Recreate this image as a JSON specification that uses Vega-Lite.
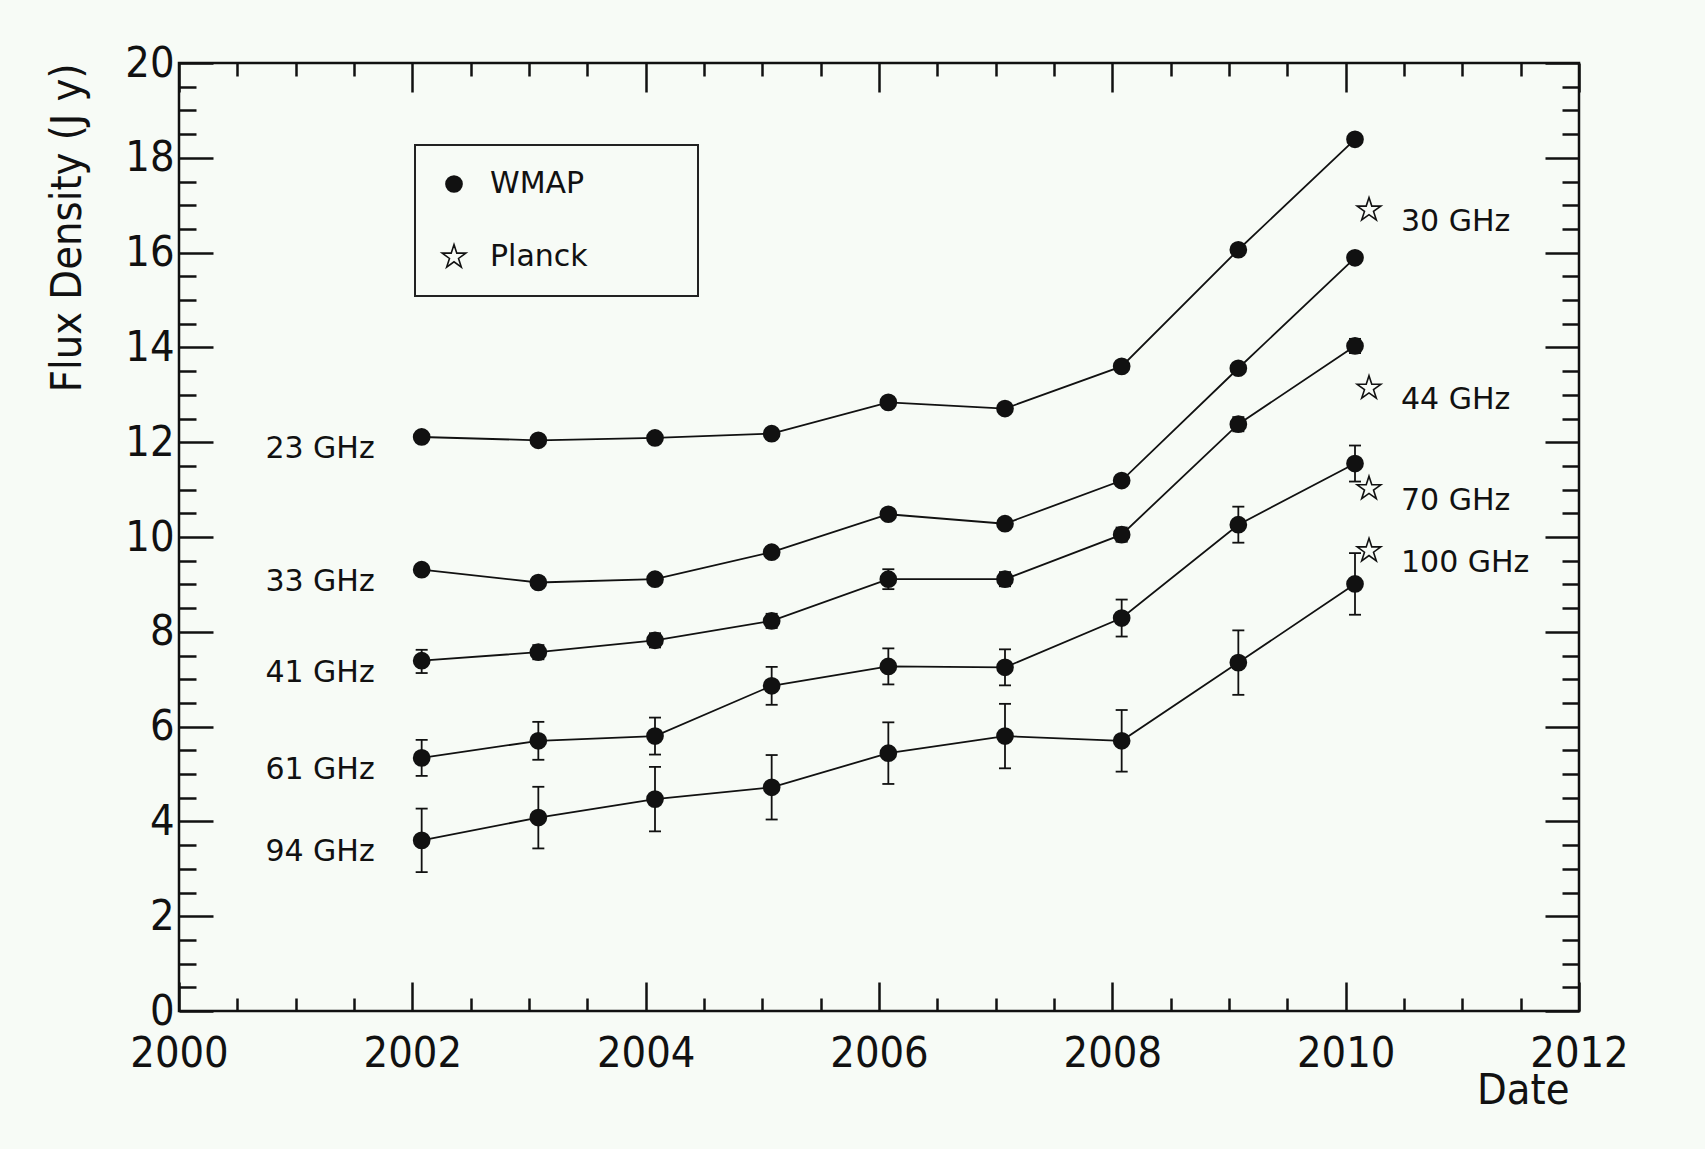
{
  "$schema": "https://vega.github.io/schema/vega-lite/v6.json",
  "width": 1400,
  "height": 948,
  "autosize": {"type": "none"},
  "padding": {"left": 179, "top": 63, "right": 126, "bottom": 138},
  "background": "#f7fbf6",
  "config": {
    "view": {"stroke": "#111111", "strokeWidth": 2.5},
    "axis": {
      "domain": false,
      "grid": false,
      "tickColor": "#111111",
      "tickWidth": 2.5,
      "labelFont": "DejaVu Sans Condensed, Liberation Sans Narrow, DejaVu Sans, sans-serif",
      "labelFontSize": 43,
      "labelColor": "#111111",
      "labelFlush": false,
      "labelOverlap": false,
      "titleFont": "DejaVu Sans Condensed, Liberation Sans Narrow, DejaVu Sans, sans-serif",
      "titleFontSize": 43,
      "titleFontWeight": "normal",
      "titleColor": "#111111"
    },
    "legend": {
      "strokeColor": "#222222",
      "strokeWidth": 2,
      "padding": 24,
      "labelFont": "DejaVu Sans",
      "labelFontSize": 30,
      "labelColor": "#111111",
      "labelLimit": 600,
      "labelOffset": 21,
      "rowPadding": 42,
      "symbolStrokeColor": "#111111",
      "symbolStrokeWidth": 1.6
    }
  },
  "data": {
    "values": [
      {"inst": "WMAP", "band": "23 GHz", "t": 2002.08, "flux": 12.11, "lo": 12.01, "hi": 12.21},
      {"inst": "WMAP", "band": "23 GHz", "t": 2003.08, "flux": 12.04, "lo": 11.94, "hi": 12.14},
      {"inst": "WMAP", "band": "23 GHz", "t": 2004.08, "flux": 12.09, "lo": 11.99, "hi": 12.19},
      {"inst": "WMAP", "band": "23 GHz", "t": 2005.08, "flux": 12.18, "lo": 12.08, "hi": 12.28},
      {"inst": "WMAP", "band": "23 GHz", "t": 2006.08, "flux": 12.84, "lo": 12.74, "hi": 12.94},
      {"inst": "WMAP", "band": "23 GHz", "t": 2007.08, "flux": 12.71, "lo": 12.61, "hi": 12.81},
      {"inst": "WMAP", "band": "23 GHz", "t": 2008.08, "flux": 13.60, "lo": 13.50, "hi": 13.70},
      {"inst": "WMAP", "band": "23 GHz", "t": 2009.08, "flux": 16.06, "lo": 15.96, "hi": 16.16},
      {"inst": "WMAP", "band": "23 GHz", "t": 2010.08, "flux": 18.39, "lo": 18.29, "hi": 18.49},
      {"inst": "WMAP", "band": "33 GHz", "t": 2002.08, "flux": 9.31, "lo": 9.21, "hi": 9.41},
      {"inst": "WMAP", "band": "33 GHz", "t": 2003.08, "flux": 9.04, "lo": 8.94, "hi": 9.14},
      {"inst": "WMAP", "band": "33 GHz", "t": 2004.08, "flux": 9.11, "lo": 9.01, "hi": 9.21},
      {"inst": "WMAP", "band": "33 GHz", "t": 2005.08, "flux": 9.68, "lo": 9.58, "hi": 9.78},
      {"inst": "WMAP", "band": "33 GHz", "t": 2006.08, "flux": 10.48, "lo": 10.38, "hi": 10.58},
      {"inst": "WMAP", "band": "33 GHz", "t": 2007.08, "flux": 10.28, "lo": 10.18, "hi": 10.38},
      {"inst": "WMAP", "band": "33 GHz", "t": 2008.08, "flux": 11.19, "lo": 11.09, "hi": 11.29},
      {"inst": "WMAP", "band": "33 GHz", "t": 2009.08, "flux": 13.56, "lo": 13.46, "hi": 13.66},
      {"inst": "WMAP", "band": "33 GHz", "t": 2010.08, "flux": 15.89, "lo": 15.79, "hi": 15.99},
      {"inst": "WMAP", "band": "41 GHz", "t": 2002.08, "flux": 7.39, "lo": 7.13, "hi": 7.62},
      {"inst": "WMAP", "band": "41 GHz", "t": 2003.08, "flux": 7.57, "lo": 7.42, "hi": 7.72},
      {"inst": "WMAP", "band": "41 GHz", "t": 2004.08, "flux": 7.82, "lo": 7.67, "hi": 7.97},
      {"inst": "WMAP", "band": "41 GHz", "t": 2005.08, "flux": 8.23, "lo": 8.08, "hi": 8.38},
      {"inst": "WMAP", "band": "41 GHz", "t": 2006.08, "flux": 9.11, "lo": 8.90, "hi": 9.32},
      {"inst": "WMAP", "band": "41 GHz", "t": 2007.08, "flux": 9.11, "lo": 8.96, "hi": 9.26},
      {"inst": "WMAP", "band": "41 GHz", "t": 2008.08, "flux": 10.05, "lo": 9.90, "hi": 10.20},
      {"inst": "WMAP", "band": "41 GHz", "t": 2009.08, "flux": 12.38, "lo": 12.23, "hi": 12.53},
      {"inst": "WMAP", "band": "41 GHz", "t": 2010.08, "flux": 14.03, "lo": 13.88, "hi": 14.18},
      {"inst": "WMAP", "band": "61 GHz", "t": 2002.08, "flux": 5.34, "lo": 4.96, "hi": 5.72},
      {"inst": "WMAP", "band": "61 GHz", "t": 2003.08, "flux": 5.70, "lo": 5.30, "hi": 6.10},
      {"inst": "WMAP", "band": "61 GHz", "t": 2004.08, "flux": 5.80, "lo": 5.41, "hi": 6.19},
      {"inst": "WMAP", "band": "61 GHz", "t": 2005.08, "flux": 6.86, "lo": 6.46, "hi": 7.26},
      {"inst": "WMAP", "band": "61 GHz", "t": 2006.08, "flux": 7.27, "lo": 6.89, "hi": 7.65},
      {"inst": "WMAP", "band": "61 GHz", "t": 2007.08, "flux": 7.25, "lo": 6.87, "hi": 7.63},
      {"inst": "WMAP", "band": "61 GHz", "t": 2008.08, "flux": 8.29, "lo": 7.90, "hi": 8.68},
      {"inst": "WMAP", "band": "61 GHz", "t": 2009.08, "flux": 10.26, "lo": 9.88, "hi": 10.64},
      {"inst": "WMAP", "band": "61 GHz", "t": 2010.08, "flux": 11.55, "lo": 11.17, "hi": 11.93},
      {"inst": "WMAP", "band": "94 GHz", "t": 2002.08, "flux": 3.60, "lo": 2.93, "hi": 4.27},
      {"inst": "WMAP", "band": "94 GHz", "t": 2003.08, "flux": 4.08, "lo": 3.43, "hi": 4.73},
      {"inst": "WMAP", "band": "94 GHz", "t": 2004.08, "flux": 4.47, "lo": 3.79, "hi": 5.15},
      {"inst": "WMAP", "band": "94 GHz", "t": 2005.08, "flux": 4.72, "lo": 4.04, "hi": 5.40},
      {"inst": "WMAP", "band": "94 GHz", "t": 2006.08, "flux": 5.44, "lo": 4.79, "hi": 6.09},
      {"inst": "WMAP", "band": "94 GHz", "t": 2007.08, "flux": 5.80, "lo": 5.12, "hi": 6.48},
      {"inst": "WMAP", "band": "94 GHz", "t": 2008.08, "flux": 5.70, "lo": 5.05, "hi": 6.35},
      {"inst": "WMAP", "band": "94 GHz", "t": 2009.08, "flux": 7.35, "lo": 6.67, "hi": 8.03},
      {"inst": "WMAP", "band": "94 GHz", "t": 2010.08, "flux": 9.01, "lo": 8.36, "hi": 9.66},
      {"inst": "Planck", "band": "30 GHz", "t": 2010.2, "flux": 16.90},
      {"inst": "Planck", "band": "44 GHz", "t": 2010.2, "flux": 13.14},
      {"inst": "Planck", "band": "70 GHz", "t": 2010.2, "flux": 11.02},
      {"inst": "Planck", "band": "100 GHz", "t": 2010.2, "flux": 9.71}
    ]
  },
  "resolve": {"axis": {"x": "independent", "y": "independent"}},
  "layer": [
    {
      "transform": [{"filter": "datum.inst === 'WMAP'"}],
      "mark": {"type": "rule", "color": "#111111", "strokeWidth": 1.8},
      "encoding": {
        "x": {
          "field": "t", "type": "quantitative",
          "scale": {"domain": [2000, 2012], "nice": false, "zero": false},
          "axis": {
            "orient": "bottom",
            "values": [2000, 2002, 2004, 2006, 2008, 2010, 2012],
            "format": "d",
            "tickSize": -29,
            "labelBaseline": "alphabetic",
            "labelPadding": 84,
            "title": "Date",
            "titleAlign": "right",
            "titleBaseline": "alphabetic",
            "titleX": 1390,
            "titleY": 92
          }
        },
        "y": {
          "field": "lo", "type": "quantitative",
          "scale": {"domain": [0, 20], "nice": false, "zero": true},
          "axis": {
            "orient": "left",
            "values": [0, 2, 4, 6, 8, 10, 12, 14, 16, 18, 20],
            "tickSize": -34,
            "labelPadding": 39,
            "title": "Flux Density (J y)",
            "titleAngle": -90,
            "titleAlign": "right",
            "titleBaseline": "middle",
            "titleX": -112,
            "titleY": 0
          }
        },
        "y2": {"field": "hi"}
      }
    },
    {
      "transform": [
        {"filter": "datum.inst === 'WMAP'"},
        {"fold": ["lo", "hi"], "as": ["end", "bound"]}
      ],
      "mark": {"type": "tick", "orient": "horizontal", "color": "#111111", "size": 12, "thickness": 1.8, "opacity": 1},
      "encoding": {
        "x": {
          "field": "t", "type": "quantitative",
          "scale": {"domain": [2000, 2012], "nice": false, "zero": false},
          "axis": {
            "orient": "bottom",
            "values": [2000.5, 2001, 2001.5, 2002.5, 2003, 2003.5, 2004.5, 2005, 2005.5, 2006.5, 2007, 2007.5, 2008.5, 2009, 2009.5, 2010.5, 2011, 2011.5],
            "tickSize": -13,
            "labels": false,
            "title": null
          }
        },
        "y": {
          "field": "bound", "type": "quantitative",
          "scale": {"domain": [0, 20], "nice": false},
          "axis": {
            "orient": "left",
            "values": [0.5, 1, 1.5, 2.5, 3, 3.5, 4.5, 5, 5.5, 6.5, 7, 7.5, 8.5, 9, 9.5, 10.5, 11, 11.5, 12.5, 13, 13.5, 14.5, 15, 15.5, 16.5, 17, 17.5, 18.5, 19, 19.5],
            "tickSize": -17,
            "labels": false,
            "title": null
          }
        }
      }
    },
    {
      "transform": [{"filter": "datum.inst === 'WMAP'"}],
      "mark": {"type": "line", "color": "#111111", "strokeWidth": 1.8},
      "encoding": {
        "detail": {"field": "band"},
        "x": {
          "field": "t", "type": "quantitative",
          "scale": {"domain": [2000, 2012], "nice": false, "zero": false},
          "axis": {
            "orient": "top",
            "values": [2000, 2002, 2004, 2006, 2008, 2010, 2012],
            "tickSize": -29,
            "labels": false,
            "title": null
          }
        },
        "y": {
          "field": "flux", "type": "quantitative",
          "scale": {"domain": [0, 20], "nice": false},
          "axis": {
            "orient": "right",
            "values": [0, 2, 4, 6, 8, 10, 12, 14, 16, 18, 20],
            "tickSize": -34,
            "labels": false,
            "title": null
          }
        }
      }
    },
    {
      "mark": {"type": "point", "filled": false, "color": "#111111", "fill": "transparent", "strokeWidth": 1.6, "opacity": 1},
      "encoding": {
        "x": {
          "field": "t", "type": "quantitative",
          "scale": {"domain": [2000, 2012], "nice": false, "zero": false},
          "axis": {
            "orient": "top",
            "values": [2000.5, 2001, 2001.5, 2002.5, 2003, 2003.5, 2004.5, 2005, 2005.5, 2006.5, 2007, 2007.5, 2008.5, 2009, 2009.5, 2010.5, 2011, 2011.5],
            "tickSize": -13,
            "labels": false,
            "title": null
          }
        },
        "y": {
          "field": "flux", "type": "quantitative",
          "scale": {"domain": [0, 20], "nice": false},
          "axis": {
            "orient": "right",
            "values": [0.5, 1, 1.5, 2.5, 3, 3.5, 4.5, 5, 5.5, 6.5, 7, 7.5, 8.5, 9, 9.5, 10.5, 11, 11.5, 12.5, 13, 13.5, 14.5, 15, 15.5, 16.5, 17, 17.5, 18.5, 19, 19.5],
            "tickSize": -17,
            "labels": false,
            "title": null
          }
        },
        "shape": {
          "field": "inst", "type": "nominal",
          "scale": {
            "domain": ["WMAP", "Planck"],
            "range": [
              "M1,0A1,1 0 1,1 -1,0A1,1 0 1,1 1,0ZM0.85,0A0.85,0.85 0 1,1 -0.85,0A0.85,0.85 0 1,1 0.85,0ZM0.7,0A0.7,0.7 0 1,1 -0.7,0A0.7,0.7 0 1,1 0.7,0ZM0.55,0A0.55,0.55 0 1,1 -0.55,0A0.55,0.55 0 1,1 0.55,0ZM0.4,0A0.4,0.4 0 1,1 -0.4,0A0.4,0.4 0 1,1 0.4,0ZM0.25,0A0.25,0.25 0 1,1 -0.25,0A0.25,0.25 0 1,1 0.25,0ZM0.1,0A0.1,0.1 0 1,1 -0.1,0A0.1,0.1 0 1,1 0.1,0Z",
              "M0,-1L0.2245,-0.309L0.951,-0.309L0.363,0.118L0.588,0.809L0,0.382L-0.588,0.809L-0.363,0.118L-0.951,-0.309L-0.2245,-0.309Z"
            ]
          },
          "legend": {
            "title": null, "orient": "none", "legendX": 236, "legendY": 82,
            "labelExpr": "datum.label + '\u00a0\u00a0\u00a0\u00a0\u00a0\u00a0\u00a0\u00a0\u00a0\u200b'"
          }
        },
        "size": {
          "field": "inst", "type": "nominal",
          "scale": {"domain": ["WMAP", "Planck"], "range": [260, 620]},
          "legend": {
            "title": null, "orient": "none", "legendX": 236, "legendY": 82,
            "labelExpr": "datum.label + '\u00a0\u00a0\u00a0\u00a0\u00a0\u00a0\u00a0\u00a0\u00a0\u200b'"
          }
        }
      }
    },
    {
      "transform": [{"filter": "datum.inst === 'WMAP' && datum.t < 2002.5"}],
      "mark": {"type": "text", "align": "right", "baseline": "middle", "dx": -47, "dy": 12, "font": "DejaVu Sans", "fontSize": 30, "color": "#111111"},
      "encoding": {
        "x": {"field": "t", "type": "quantitative", "scale": {"domain": [2000, 2012], "nice": false, "zero": false}, "axis": null},
        "y": {"field": "flux", "type": "quantitative", "scale": {"domain": [0, 20], "nice": false}, "axis": null},
        "text": {"field": "band"}
      }
    },
    {
      "transform": [{"filter": "datum.inst === 'Planck'"}],
      "mark": {"type": "text", "align": "left", "baseline": "middle", "dx": 32, "dy": 12, "font": "DejaVu Sans", "fontSize": 30, "color": "#111111"},
      "encoding": {
        "x": {"field": "t", "type": "quantitative", "scale": {"domain": [2000, 2012], "nice": false, "zero": false}, "axis": null},
        "y": {"field": "flux", "type": "quantitative", "scale": {"domain": [0, 20], "nice": false}, "axis": null},
        "text": {"field": "band"}
      }
    }
  ]
}
